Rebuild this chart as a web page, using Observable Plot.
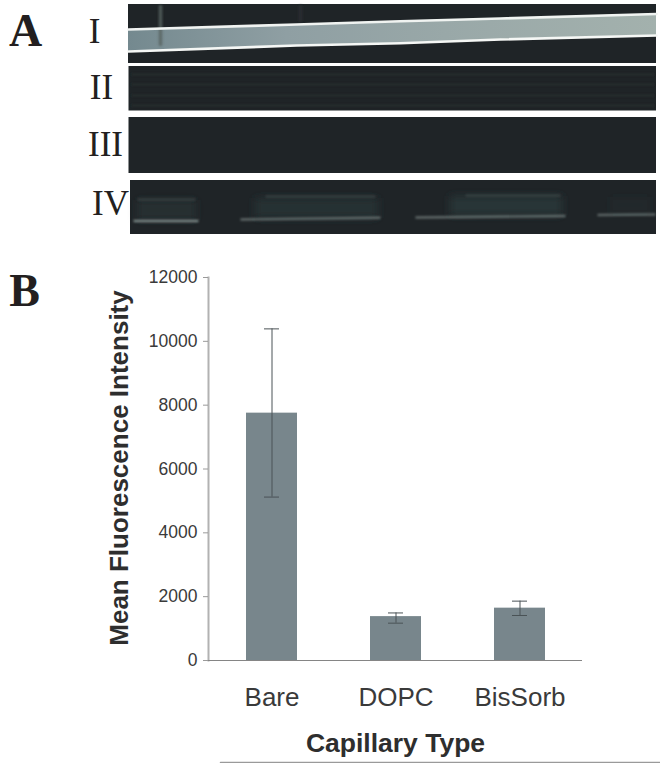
<!DOCTYPE html>
<html><head><meta charset="utf-8">
<script src="https://cdn.jsdelivr.net/npm/d3@7"></script>
<script src="https://cdn.jsdelivr.net/npm/@observablehq/plot@0.6"></script>
<style>
html,body{margin:0;padding:0;background:#fff}
#stage{position:relative;width:660px;height:763px;overflow:hidden}
#stage svg{position:absolute;left:0;top:0;background:transparent}
</style></head><body><div id="stage"></div>
<script>
// --- Panel B values
const capillaries = ["Bare", "DOPC", "BisSorb"];
const meanIntensity = [7750, 1375, 1640];
const errLow = [5120, 1170, 1410];
const errHigh = [10390, 1490, 1860];
const yTicks = [0, 2000, 4000, 6000, 8000, 10000, 12000];

// --- Panel A micrograph description, in image units
const panelLabels = ["I", "II", "III", "IV"];
const labelX = [94, 101, 105, 110];
const labelY = [31, 87, 144, 203];
const panelX1 = [128, 128.5, 128.5, 130];
const panelX2 = [656, 656, 656, 656];
const panelY1 = [4, 66, 117, 180];
const panelY2 = [63, 110.5, 173, 234];

const letters = ["A", "B"];
const letterX = [25, 24];
const letterY = [31, 291];

const bandX = [128, 296, 400, 500, 656];
const bandTop = [29, 24, 20.7, 18, 13.5];
const bandBottom = [51, 45, 42.7, 39, 35];

const streakX = [160, 160, 300, 300];
const streakY = [6, 44, 6, 20];
const streakId = [0, 0, 1, 1];

const rowsIIy = [74, 84, 95, 105];
const glowX1 = [137, 255, 450, 610];
const glowX2 = [196, 378, 562, 650];
const glowY1 = [200, 198, 196, 197];
const glowY2 = [220, 218, 215, 213];
const glowOpacity = [0.4, 0.45, 0.55, 0.1];

const glintX1 = [133, 240, 415, 597];
const glintX2 = [198, 380, 565, 655];
const glintY1 = [220.5, 219, 217, 214.5];
const glintY2 = [220.5, 217.3, 215.5, 214];
const glintOpacity = [0.6, 0.42, 0.42, 0.4];

const rimX1 = [137, 265, 465];
const rimX2 = [195, 375, 560];
const rimY = [199, 196, 195];

const footRuleX = [220, 660];
const footRuleY = [762, 762];

const idx = a => a.map((_, i) => i);

const stageDefs = () => {
  const s = d3.create("svg:defs");
  const g = s.append("linearGradient").attr("id", "bandFill");
  [[0, "#74898f"], [0.3, "#8f9fa3"], [0.6, "#99a8a8"], [1, "#a3b1ad"]]
    .forEach(([o, c]) => g.append("stop").attr("offset", o).attr("stop-color", c));
  [["soft1", 0.7], ["soft2", 1.2], ["soft3", 4]].forEach(([id, sd]) => {
    s.append("filter").attr("id", id).attr("filterUnits", "userSpaceOnUse")
      .attr("x", 0).attr("y", 0).attr("width", 660).attr("height", 763)
      .append("feGaussianBlur").attr("stdDeviation", sd);
  });
  return s.node();
};

const soft = id => function (index, scales, values, dimensions, context, next) {
  const node = next(index, scales, values, dimensions, context);
  node.setAttribute("style", `${node.getAttribute("style") || ""};filter:url(#${id})`);
  return node;
};

const stage = Plot.plot({
  width: 660, height: 763, margin: 0,
  x: {domain: [0, 660], range: [0, 660], axis: null},
  y: {domain: [0, 763], range: [0, 763], axis: null},
  style: {background: "transparent"},
  marks: [
    stageDefs,
    Plot.rect(idx(panelLabels), {x1: i => panelX1[i], x2: i => panelX2[i], y1: i => panelY1[i], y2: i => panelY2[i], fill: "#1f2427"}),
    Plot.ruleY(rowsIIy, {x1: panelX1[1] + 3, x2: panelX2[1] - 2, y: d => d, stroke: "#282d2f", strokeWidth: 2, render: soft("soft2")}),
    Plot.areaY(idx(bandX), {x: i => bandX[i], y1: i => bandTop[i], y2: i => bandBottom[i], fill: "url(#bandFill)"}),
    Plot.line(idx(streakX), {x: i => streakX[i], y: i => streakY[i], z: i => streakId[i], stroke: i => streakId[i] ? "#2a3133" : "#55625f", strokeOpacity: 0.8, strokeWidth: 3.5, render: soft("soft2")}),
    Plot.line(idx(bandX), {x: i => bandX[i], y: i => bandTop[i], stroke: "#f0f3f1", strokeWidth: 2.6, render: soft("soft1")}),
    Plot.line(idx(bandX), {x: i => bandX[i], y: i => bandBottom[i], stroke: "#f5f7f5", strokeWidth: 2.6, render: soft("soft1")}),
    Plot.rect(idx(glowX1), {x1: i => glowX1[i], x2: i => glowX2[i], y1: i => glowY1[i], y2: i => glowY2[i], fill: "#2f4141", fillOpacity: i => glowOpacity[i], render: soft("soft3")}),
    Plot.link(idx(rimX1), {x1: i => rimX1[i], x2: i => rimX2[i], y1: i => rimY[i], y2: i => rimY[i], stroke: "#5c6b6a", strokeOpacity: 0.4, strokeWidth: 2, render: soft("soft2")}),
    Plot.link(idx(glintX1), {x1: i => glintX1[i], x2: i => glintX2[i], y1: i => glintY1[i], y2: i => glintY2[i], stroke: "#b5c4bf", strokeOpacity: i => glintOpacity[i], strokeWidth: 2.4, render: soft("soft2")}),
    Plot.text(panelLabels, {x: (d, i) => labelX[i], y: (d, i) => labelY[i], text: d => d, fontFamily: "Liberation Serif", fontSize: 35, fill: "#231f20"}),
    Plot.text(letters, {x: (d, i) => letterX[i], y: (d, i) => letterY[i], text: d => d, fontFamily: "Liberation Serif", fontWeight: "bold", fontSize: 46, fill: "#231f20"}),
    Plot.line(idx(footRuleX), {x: i => footRuleX[i], y: i => footRuleY[i], stroke: "#9a9a9a", strokeWidth: 1.5})
  ]
});

const chart = Plot.plot({
  width: 660, height: 763,
  marginTop: 277, marginBottom: 103, marginLeft: 208, marginRight: 78,
  x: {domain: capillaries, paddingInner: 0.59, paddingOuter: 0.293, align: 0.5, label: null},
  y: {domain: [0, 12000], label: null},
  style: {background: "transparent", fontFamily: "Liberation Sans"},
  marks: [
    Plot.barY(capillaries, {x: d => d, y: (d, i) => meanIntensity[i], fill: "#78868c"}),
    Plot.frame({anchor: "left", stroke: "#b2b2b2", strokeWidth: 2}),
    Plot.ruleY([0], {stroke: "#858585", strokeWidth: 1.2, insetLeft: -5}),
    Plot.ruleX(capillaries, {x: d => d, y1: (d, i) => errLow[i], y2: (d, i) => errHigh[i], stroke: "#4a5256", strokeWidth: 1}),
    Plot.tickY(capillaries, {x: d => d, y: (d, i) => errLow[i], stroke: "#4a5256", strokeWidth: 1, insetLeft: 18, insetRight: 18}),
    Plot.tickY(capillaries, {x: d => d, y: (d, i) => errHigh[i], stroke: "#4a5256", strokeWidth: 1, insetLeft: 18, insetRight: 18}),
    Plot.axisY({ticks: yTicks, tickFormat: d => String(d), label: null, tickSize: 5, tickPadding: 6, fontSize: 17.5, stroke: "#9a9a9a", fill: "#3a3a3a"}),
    Plot.axisX({label: null, tickSize: 0, tickPadding: 27, fontSize: 26, fill: "#3a3a3a"}),
    Plot.text(["Mean Fluorescence Intensity"], {frameAnchor: "left", textAnchor: "middle", rotate: -90, dx: -89, dy: -1, text: d => d, fontSize: 26, fontWeight: "bold", fill: "#2e2e2e"}),
    Plot.text(["Capillary Type"], {frameAnchor: "bottom", dy: 91, text: d => d, fontSize: 26.5, fontWeight: "bold", fill: "#2e2e2e"})
  ]
});

const root = document.getElementById("stage");
root.append(stage, chart);
</script></body></html>
